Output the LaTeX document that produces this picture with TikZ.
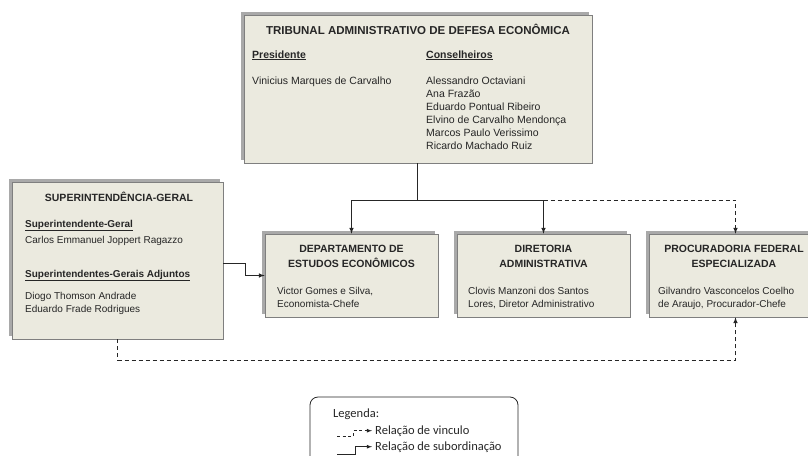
\documentclass[tikz,border=0pt]{standalone}
\usepackage{fontspec}
\setmainfont{Liberation Sans}
\newfontfamily\legendafont{Carlito}
\usepackage{tikz}
\usetikzlibrary{arrows,positioning,shadows}
\definecolor{fundo}{HTML}{EBEADF}
\definecolor{borda}{HTML}{7F7F7F}
\definecolor{sombra}{HTML}{A9A9A9}
\definecolor{tinta}{HTML}{262626}
\tikzset{
  caixa/.style={draw=borda, fill=fundo, line width=0.6pt,
    drop shadow={shadow xshift=-3pt, shadow yshift=3pt, fill=sombra, opacity=1}},
  texto/.style={inner sep=0pt, anchor=base west, align=left, text=tinta,
    font=\fontsize{10}{13}\selectfont},
  titulo/.style={inner sep=0pt, anchor=base, align=center, text=tinta,
    font=\fontsize{10.5}{15}\selectfont\bfseries},
  legtexto/.style={inner sep=0pt, anchor=base west, text=tinta,
    font=\legendafont\fontsize{12.5}{15}\selectfont},
  subordinacao/.style={->, line width=1pt, draw=tinta},
  vinculo/.style={->, line width=1pt, draw=tinta, dash pattern=on 4pt off 3pt},
}

\begin{document}
\begin{tikzpicture}[x=1pt, y=-1pt, >=latex]
\clip (0,0) rectangle (808,455);

% caixas
\node[caixa, minimum width=348pt, minimum height=148pt] (tade) at (418,89) {};
\node[caixa, minimum width=211pt, minimum height=157pt] (sg) at (117.5,260.5) {};
\node[caixa, minimum width=173pt, minimum height=83pt] (dee) at (351.5,275.5) {};
\node[caixa, minimum width=173pt, minimum height=83pt] (da) at (543.5,275.5) {};
\node[caixa, minimum width=173pt, minimum height=83pt] (pfe) at (735.5,275.5) {};

% tribunal (base = ultima linha)
\node[titulo, font=\fontsize{11.5}{14}\selectfont\bfseries] (tit_tade) at (418,34) {TRIBUNAL ADMINISTRATIVO DE DEFESA ECONÔMICA};
\node[texto, font=\fontsize{10.5}{13}\selectfont] (presidente) at (252,58) {\underline{\textbf{Presidente}}};
\node[texto, font=\fontsize{10.5}{13}\selectfont] (conselheiros) at (426,58) {\underline{\textbf{Conselheiros}}};
\node[texto, font=\fontsize{10.5}{13}\selectfont] (vinicius) at (252,84) {Vinicius Marques de Carvalho};
\node[texto, font=\fontsize{10.5}{13}\selectfont] (nomes) at (426,149) {Alessandro Octaviani\\ Ana Frazão\\ Eduardo Pontual Ribeiro\\
  Elvino de Carvalho Mendonça\\ Marcos Paulo Verissimo\\ Ricardo Machado Ruiz};

% superintendencia
\node[titulo] (tit_sg) at (119,201) {SUPERINTENDÊNCIA-GERAL};
\node[texto] (sup_geral) at (25,227) {\underline{\textbf{Superintendente-Geral}}};
\node[texto] (carlos) at (25,243) {Carlos Emmanuel Joppert Ragazzo};
\node[texto] (sup_adj) at (25,277) {\underline{\textbf{Superintendentes-Gerais Adjuntos}}};
\node[texto] (adjuntos) at (25,312) {Diogo Thomson Andrade\\ Eduardo Frade Rodrigues};

% caixas de baixo
\node[titulo] (tit_dee) at (351.5,267) {DEPARTAMENTO DE\\ ESTUDOS ECONÔMICOS};
\node[texto] (victor) at (277,307) {Victor Gomes e Silva,\\ Economista-Chefe};
\node[titulo] (tit_da) at (543.5,267) {DIRETORIA\\ ADMINISTRATIVA};
\node[texto] (clovis) at (468,307) {Clovis Manzoni dos Santos\\ Lores, Diretor Administrativo};
\node[titulo] (tit_pfe) at (734,267) {PROCURADORIA FEDERAL\\ ESPECIALIZADA};
\node[texto] (gilvandro) at (658,307) {Gilvandro Vasconcelos Coelho\\ de Araujo, Procurador-Chefe};

% ligacoes
\coordinate (juncao) at (417,200);
\draw[line width=1pt, draw=tinta] (tade.south -| juncao) -- (juncao);
\draw[subordinacao] (juncao) -| (dee.north);
\draw[subordinacao] (juncao) -| (da.north);
\draw[vinculo] (da.north |- juncao) -| (pfe.north);
\draw[subordinacao] ([yshift=-2.5pt]sg.east) -- ++(22,0) |- (dee.west);
\draw[vinculo] (sg.south) -- ++(0,21) -| (pfe.south);

% legenda
\node[draw=tinta, line width=0.8pt, rounded corners=8pt, minimum width=208pt,
  minimum height=80pt] (legenda) at (414,437) {};
\node[legtexto] (leg) at (333,417) {Legenda:};
\node[legtexto] (rv) at (375,434) {Relação de vinculo};
\node[legtexto] (rs) at (375,450) {Relação de subordinação};
\coordinate (lv) at (337,436);
\coordinate (ls) at (337,454);
\draw[vinculo, line width=0.8pt, dash pattern=on 3pt off 2.5pt] (lv) -- ++(16,0) |- ([xshift=-3pt]rv.west);
\draw[subordinacao, line width=0.8pt] (ls) -- ++(18,0) |- ([xshift=-3pt]rs.west);

\end{tikzpicture}
\end{document}
